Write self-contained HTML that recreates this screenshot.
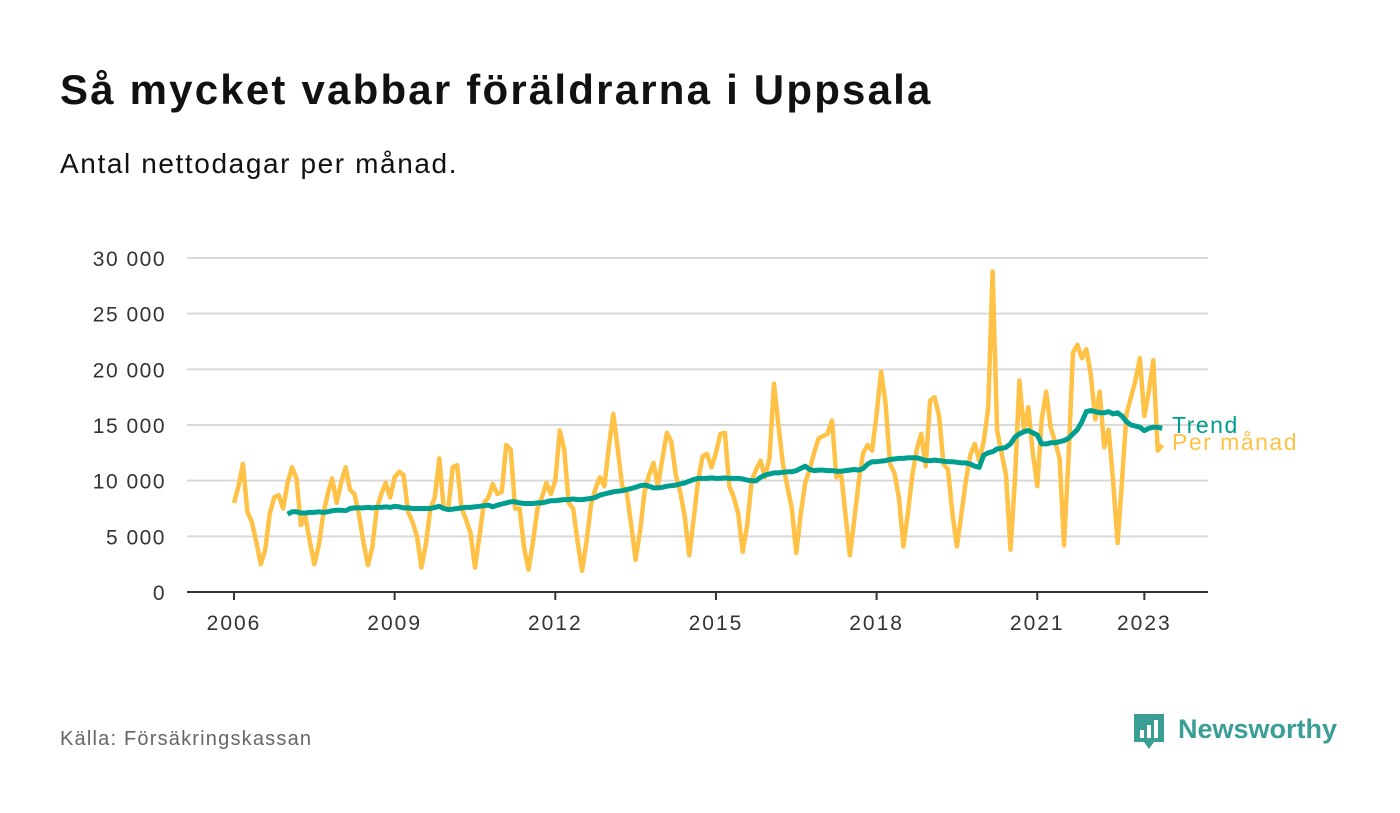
<!DOCTYPE html>
<html><head><meta charset="utf-8"><style>
body{margin:0;background:#fff;width:1400px;height:813px;overflow:hidden;font-family:"Liberation Sans","DejaVu Sans",sans-serif}
</style></head><body>
<div style="position:absolute;left:60px;top:66px;font-size:42px;letter-spacing:2.2px;font-weight:bold;color:#111">Så mycket vabbar föräldrarna i Uppsala</div>
<div style="position:absolute;left:60px;top:148px;font-size:28px;letter-spacing:1.6px;color:#111">Antal nettodagar per månad.</div>
<svg width="1400" height="813" style="position:absolute;left:0;top:0">
<g id="grid"></g><g id="xax"></g><g id="lines"></g>
</svg>
<div style="position:absolute;left:60px;top:728px;font-size:20px;letter-spacing:1.2px;color:#666">Källa: Försäkringskassan</div>
<div style="position:absolute;left:1132px;top:712px;width:210px;height:44px">
<svg width="36" height="42" style="position:absolute;left:0;top:0"><path d="M2 2h30v28h-10l-5 7-5-7H2z" fill="#3a9e95"/><rect x="8" y="18" width="4" height="8" fill="#fff"/><rect x="15" y="13" width="4" height="13" fill="#fff"/><rect x="22" y="8" width="4" height="18" fill="#fff"/></svg>
<div style="position:absolute;left:46px;top:2px;font-size:27px;font-weight:bold;color:#3a9e95">Newsworthy</div></div>
<script>
const years=[2006,2009,2012,2015,2018,2021,2023];
const yTicks=[0,5000,10000,15000,20000,25000,30000];
const yTickLabels=["0","5 000","10 000","15 000","20 000","25 000","30 000"];
const monthly=[8000,9500,11500,7200,6300,4500,2500,3800,7000,8500,8700,7500,
9800,11200,10200,6000,6800,4500,2500,4200,7000,8800,10200,8000,
9800,11200,9200,8800,7000,4500,2400,4000,7500,8800,9800,8500,
10300,10800,10500,7200,6300,5000,2200,4300,7500,8500,12000,7500,
7400,11200,11400,7500,6500,5300,2200,5000,8000,8500,9700,8800,
9000,13200,12800,7500,7500,4000,2000,4500,7500,8500,9800,8800,
10000,14500,12800,8000,7500,4500,1900,4500,7800,9300,10300,9500,
13000,16000,12800,9500,9000,6000,2900,5500,9000,10500,11600,9500,
12000,14300,13500,10500,9000,6800,3300,6500,10000,12200,12400,11200,
12500,14200,14300,9500,8500,7000,3600,6000,10000,11000,11800,10300,
12000,18700,15000,11500,9500,7500,3500,7000,9800,11000,12500,13800,
14000,14200,15400,10300,10800,7000,3300,6500,10000,12500,13200,12700,
16000,19800,17000,11500,10700,8500,4100,7000,10500,12800,14200,11300,
17200,17500,15800,11500,11000,7000,4100,7000,10000,12300,13300,11800,
13500,16500,28800,14500,12500,10500,3800,10000,19000,14500,16600,12500,
9500,15500,18000,14800,13500,12000,4200,12000,21500,22200,21000,21800,
19500,15500,18000,13000,14600,10000,4400,10000,16000,17500,19000,21000,
15800,18000,20800,12700,13200];
const trend=[7000,7200,7200,7100,7100,7150,7150,7200,7150,7200,7300,7350,
7350,7300,7500,7550,7550,7550,7600,7550,7600,7600,7650,7600,
7700,7650,7550,7550,7500,7500,7500,7500,7500,7600,7700,7500,
7400,7450,7500,7550,7600,7600,7650,7700,7750,7800,7650,7800,
7900,8000,8100,8100,8000,7950,7950,7950,8000,8000,8100,8200,
8200,8250,8300,8300,8350,8300,8300,8350,8400,8500,8700,8800,
8900,9000,9050,9100,9200,9300,9400,9550,9600,9500,9350,9350,
9400,9500,9550,9600,9700,9800,9950,10100,10200,10200,10200,10250,
10200,10200,10250,10200,10200,10200,10150,10050,10000,10000,10300,10500,
10600,10700,10700,10750,10800,10800,10900,11100,11300,11000,10900,10950,
10950,10900,10900,10850,10850,10900,10950,11000,10950,11100,11500,11700,
11700,11750,11800,11900,11950,12000,12000,12050,12050,12050,11950,11800,
11800,11850,11800,11750,11700,11700,11650,11600,11600,11500,11300,11200,
12300,12500,12600,12850,12900,13000,13300,13900,14200,14400,14500,14300,
14100,13300,13300,13400,13400,13500,13600,13800,14200,14600,15300,16200,
16300,16200,16100,16100,16200,16000,16100,15800,15300,15000,14900,14800,
14500,14700,14800,14800,14700];
const NS="http://www.w3.org/2000/svg";
const X=t=>234+(t-2006)*53.55, Y=v=>592-v*334/30000;
function mk(tag,attrs,parent,text){const e=document.createElementNS(NS,tag);for(const k in attrs)e.setAttribute(k,attrs[k]);if(text!=null)e.textContent=text;document.getElementById(parent).appendChild(e);return e;}
yTicks.forEach((v,i)=>{
 const l=mk('line',{x1:187,x2:1208,y1:Y(v),y2:Y(v),stroke:'#d9d9d9','stroke-width':2},'grid');
 
 
 const t=mk('text',{x:166,y:Y(v)+8,'text-anchor':'end','font-size':21,'letter-spacing':1.5,fill:'#333','font-family':'Liberation Sans, sans-serif'},'grid',yTickLabels[i]);
 
 
});
const ax=mk('line',{x1:187,x2:1208,y1:592,y2:592,stroke:'#333','stroke-width':2},'xax');


years.forEach(y=>{
 const tk=mk('line',{x1:X(y),x2:X(y),y1:592,y2:600,stroke:'#333','stroke-width':2},'xax');
 
 
 const t=mk('text',{x:X(y),y:630,'text-anchor':'middle','font-size':21,'letter-spacing':2,fill:'#333','font-family':'Liberation Sans, sans-serif'},'xax',String(y));
 
 
});
const pm=mk('path',{d:monthly.map((v,i)=>(i?'L':'M')+X(2006+i/12).toFixed(1)+' '+Y(v).toFixed(1)).join(''),fill:'none',stroke:'#ffc146','stroke-width':4.5,'stroke-linejoin':'round'},'lines');


const tr=mk('path',{d:trend.map((v,i)=>(i?'L':'M')+X(2007+i/12).toFixed(1)+' '+Y(v).toFixed(1)).join(''),fill:'none',stroke:'#009e8e','stroke-width':5,'stroke-linejoin':'round'},'lines');


const lt=mk('text',{x:1172,y:433,'font-size':23,'letter-spacing':1.5,fill:'#009e8e','font-family':'Liberation Sans, sans-serif'},'lines','Trend');


const lp=mk('text',{x:1172,y:450,'font-size':23,'letter-spacing':1.5,fill:'#ffc146','font-family':'Liberation Sans, sans-serif'},'lines','Per månad');


</script>
</body></html>
